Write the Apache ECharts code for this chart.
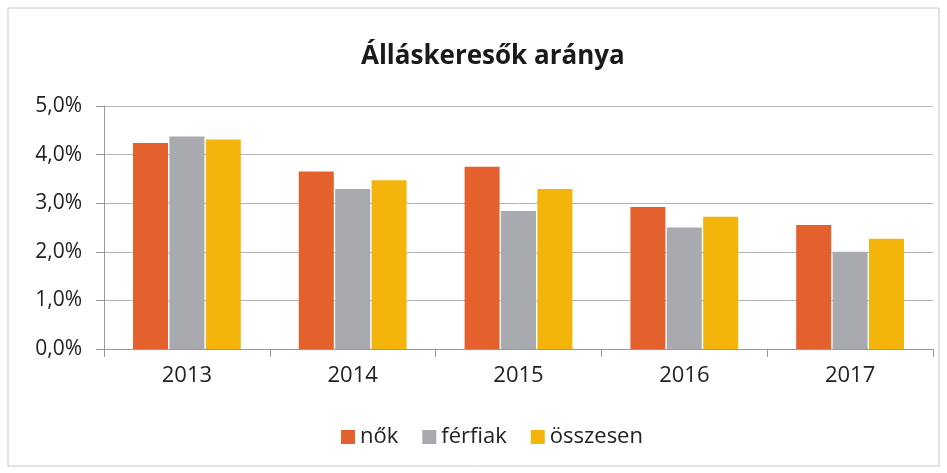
<!DOCTYPE html>
<html>
<head>
<meta charset="utf-8">
<script src="https://cdn.jsdelivr.net/npm/echarts@6/dist/echarts.min.js"></script>
<style>
  html, body { margin: 0; padding: 0; background: #fff; }
  #main { width: 947px; height: 473px; }
</style>
</head>
<body>
<div id="main"></div>
<script>
// adatok
var years = ["2013", "2014", "2015", "2016", "2017"];
var nok = [4.24, 3.65, 3.75, 2.92, 2.55];
var ferfiak = [4.37, 3.29, 2.84, 2.5, 2.0];
var osszesen = [4.31, 3.47, 3.29, 2.72, 2.27];
var seriesNames = ["nők", "férfiak", "összesen"];

(function() {
  var myChart = echarts.init(document.getElementById("main"));
  var font = "'Open Sans', 'DejaVu Sans', sans-serif";
  var option = {
    color: ["#e4612d", "#a9aab0", "#f3b50b"],
    textStyle: { fontFamily: font },
    title: {
      text: "Álláskeresők aránya",
      left: 356,
      top: 39,
      textStyle: {
        fontFamily: font,
        fontSize: 26,
        fontWeight: "bold",
        color: "#1a1a1a"
      }
    },
    graphic: [
      {
        type: "rect",
        shape: { x: 8, y: 8, width: 931, height: 458 },
        style: { fill: "none", stroke: "#c8c8c8", lineWidth: 1 }
      }
    ],
    legend: {
      bottom: 20,
      left: 336,
      itemWidth: 14,
      itemHeight: 14,
      itemGap: 24,
      icon: "rect",
      textStyle: { fontSize: 22, color: "#222", fontFamily: font }
    },
    grid: {
      left: 104,
      right: 14,
      top: 106,
      bottom: 124
    },
    xAxis: {
      type: "category",
      data: years,
      axisTick: { show: true, length: 8, lineStyle: { color: "#999" } },
      axisLine: { lineStyle: { color: "#999" } },
      axisLabel: { fontSize: 22, color: "#222", margin: 16 }
    },
    yAxis: {
      type: "value",
      min: 0,
      max: 5,
      interval: 1,
      axisLine: { show: true, lineStyle: { color: "#999" } },
      axisTick: { show: true, length: 8, lineStyle: { color: "#999" } },
      axisLabel: {
        fontSize: 21,
        color: "#222",
        margin: 22,
        formatter: function(v) {
          return v.toFixed(1).replace(".", ",") + "%";
        }
      },
      splitLine: { lineStyle: { color: "#b5b5b5" } }
    },
    series: [
      { name: seriesNames[0], type: "bar", data: nok, barWidth: 35, barGap: "4%" },
      { name: seriesNames[1], type: "bar", data: ferfiak, barWidth: 35, barGap: "4%" },
      { name: seriesNames[2], type: "bar", data: osszesen, barWidth: 35, barGap: "4%" }
    ]
  };
  myChart.setOption(option);
  window.addEventListener("resize", function() {
    myChart.resize();
  });
})();
</script>
</body>
</html>
